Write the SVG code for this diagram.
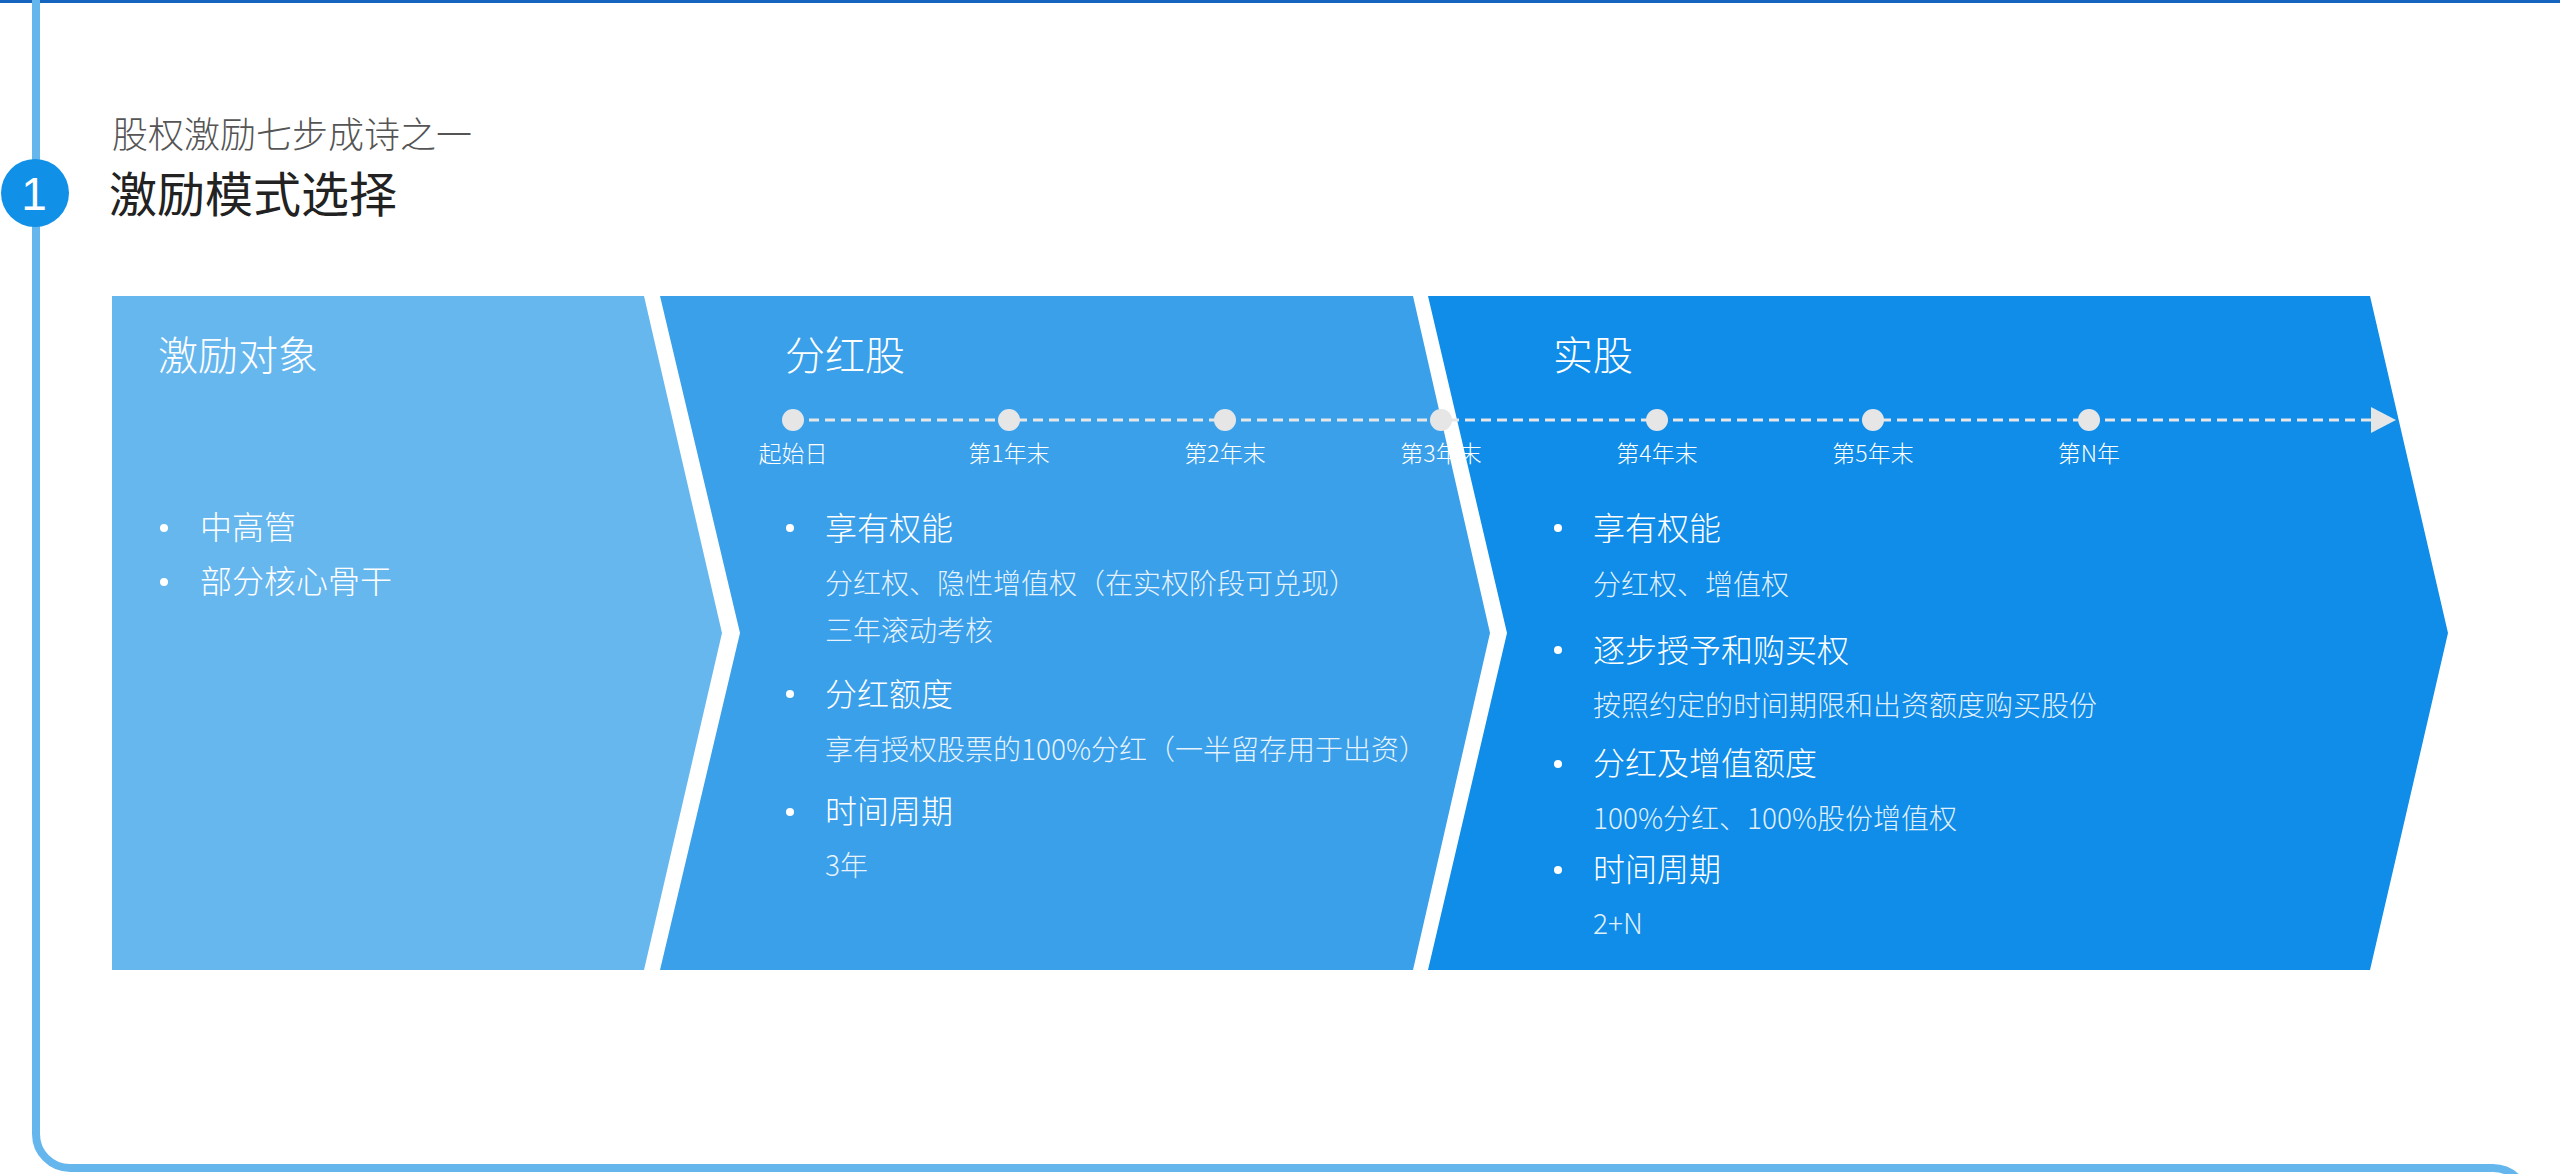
<svg xmlns="http://www.w3.org/2000/svg" width="2560" height="1174" viewBox="0 0 2560 1174">
<defs>
<style>
text{font-family:"Noto Sans CJK SC","Noto Sans",sans-serif;}
.sub{font-size:36px;fill:#555555;font-weight:300;}
.ttl{font-size:48px;fill:#222222;font-weight:400;}
.stt{font-size:40px;fill:#ffffff;font-weight:300;}
.hd{font-size:32px;fill:#ffffff;font-weight:300;}
.dt{font-size:28px;fill:#ffffff;fill-opacity:0.88;font-weight:300;}
.lb{font-size:23px;fill:#ffffff;font-weight:300;text-anchor:middle;}
.bul{fill:#ffffff;}
.dot{fill:#e6e6e6;}
.tl{stroke:#e6e6e6;stroke-width:3;stroke-dasharray:10 6;fill:none;}
</style>
<marker id="arr" markerUnits="userSpaceOnUse" markerWidth="26" markerHeight="28" refX="0" refY="14" orient="auto">
<path d="M0,1 L25,14 L0,27 Z" fill="#e6e6e6"/>
</marker>
</defs>
<rect x="0" y="0" width="2560" height="1174" fill="#ffffff"/>
<rect x="0" y="0" width="2560" height="3" fill="#1565c0"/>
<path d="M36,0 V1134 A34,34 0 0 0 70,1168 H2493 A34,34 0 0 1 2527,1202" fill="none" stroke="#66b6ee" stroke-width="8"/>

<g id="step-badge">
<circle cx="35" cy="193" r="34" fill="#1190e8"/>
<text x="34" y="210" font-size="46" fill="#ffffff" text-anchor="middle" style="font-family:'Liberation Sans',Arial,sans-serif">1</text>
</g>

<g id="header">
<text class="sub" x="112" y="148">股权激励七步成诗之一</text>
<text class="ttl" x="109" y="212">激励模式选择</text>
</g>

<g id="stage-target">
<polygon points="112,296 644,296 722,633 644,970 112,970" fill="#67b7ef"/>
<text class="stt" x="158" y="370">激励对象</text>
<circle class="bul" cx="164" cy="528" r="4"/>
<text class="hd" x="200" y="539">中高管</text>
<circle class="bul" cx="164" cy="582" r="4"/>
<text class="hd" x="200" y="593">部分核心骨干</text>
</g>

<g id="stage-dividend">
<polygon points="660,296 1413,296 1490,633 1413,970 660,970 740,633" fill="#3ba0ea"/>
<text class="stt" x="785" y="370">分红股</text>
<circle class="bul" cx="790" cy="528" r="4"/>
<text class="hd" x="825" y="540">享有权能</text>
<text class="dt" x="825" y="594">分红权、隐性增值权（在实权阶段可兑现）</text>
<text class="dt" x="825" y="641">三年滚动考核</text>
<circle class="bul" cx="790" cy="694" r="4"/>
<text class="hd" x="825" y="706">分红额度</text>
<text class="dt" x="825" y="760">享有授权股票的100%分红（一半留存用于出资）</text>
<circle class="bul" cx="790" cy="812" r="4"/>
<text class="hd" x="825" y="823">时间周期</text>
<text class="dt" x="825" y="876">3年</text>
</g>

<g id="stage-real">
<polygon points="1428,296 2370,296 2448,633 2370,970 1428,970 1507,633" fill="#0f8de8"/>
<text class="stt" x="1553" y="370">实股</text>
<circle class="bul" cx="1558" cy="528" r="4"/>
<text class="hd" x="1593" y="540">享有权能</text>
<text class="dt" x="1593" y="595">分红权、增值权</text>
<circle class="bul" cx="1558" cy="650" r="4"/>
<text class="hd" x="1593" y="662">逐步授予和购买权</text>
<text class="dt" x="1593" y="716">按照约定的时间期限和出资额度购买股份</text>
<circle class="bul" cx="1558" cy="764" r="4"/>
<text class="hd" x="1593" y="775">分红及增值额度</text>
<text class="dt" x="1593" y="829">100%分红、100%股份增值权</text>
<circle class="bul" cx="1558" cy="870" r="4"/>
<text class="hd" x="1593" y="881">时间周期</text>
<text class="dt" x="1593" y="934">2+N</text>
</g>

<g id="connectors">
<line class="tl" x1="793" y1="420" x2="2371" y2="420" marker-end="url(#arr)"/>
</g>

<g id="timeline-points">
<g id="tp-0"><circle class="dot" cx="793" cy="420" r="11"/><text class="lb" x="793" y="462">起始日</text></g>
<g id="tp-1"><circle class="dot" cx="1009" cy="420" r="11"/><text class="lb" x="1009" y="462">第1年末</text></g>
<g id="tp-2"><circle class="dot" cx="1225" cy="420" r="11"/><text class="lb" x="1225" y="462">第2年末</text></g>
<g id="tp-3"><circle class="dot" cx="1441" cy="420" r="11"/><text class="lb" x="1441" y="462">第3年末</text></g>
<g id="tp-4"><circle class="dot" cx="1657" cy="420" r="11"/><text class="lb" x="1657" y="462">第4年末</text></g>
<g id="tp-5"><circle class="dot" cx="1873" cy="420" r="11"/><text class="lb" x="1873" y="462">第5年末</text></g>
<g id="tp-n"><circle class="dot" cx="2089" cy="420" r="11"/><text class="lb" x="2089" y="462">第N年</text></g>
</g>
</svg>
